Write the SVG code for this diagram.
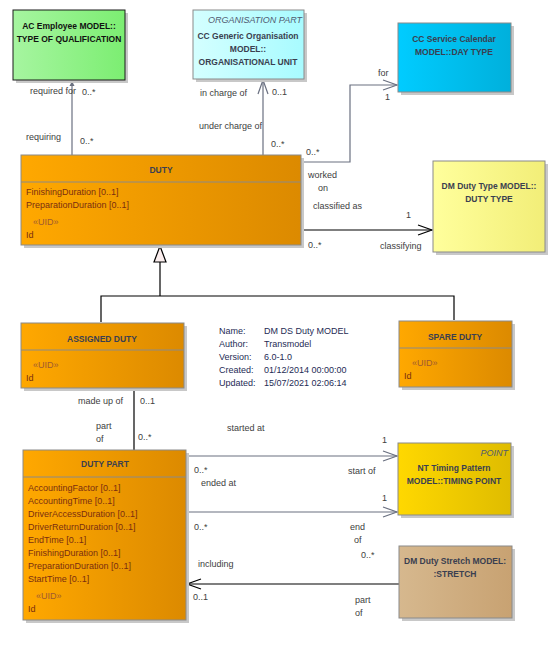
<svg xmlns="http://www.w3.org/2000/svg" width="555" height="648" viewBox="0 0 555 648">
<style>
text{font-family:"Liberation Sans",Arial,sans-serif;font-size:9px;fill:#404040}
.h{font-weight:bold;font-size:8.5px;fill:#3a3f50;text-anchor:middle}
.a{fill:#7a2e10}
.u{fill:#a05a30}
.i{font-style:italic;text-anchor:end;fill:#505a70}
.inf{fill:#1e2b55}
.box{stroke:#8a8a8a;stroke-width:1}
.sh{fill:#c8c8c8}
.g{stroke:#6a7080;stroke-width:1.2;fill:none}
.k{stroke:#000;stroke-width:1.2;fill:none}
</style>
<defs>
<linearGradient id="gOr" x1="0" x2="1"><stop offset="0" stop-color="#ffa800"/><stop offset="1" stop-color="#dc8a00"/></linearGradient>
<linearGradient id="gGr" x1="0" x2="1"><stop offset="0" stop-color="#a6f5a0"/><stop offset="1" stop-color="#7cee72"/></linearGradient>
<linearGradient id="gCy" x1="0" x2="1"><stop offset="0" stop-color="#d4ffff"/><stop offset="1" stop-color="#a8fbff"/></linearGradient>
<linearGradient id="gBl" x1="0" x2="1"><stop offset="0" stop-color="#00ccff"/><stop offset="1" stop-color="#00b0dc"/></linearGradient>
<linearGradient id="gYe" x1="0" x2="1"><stop offset="0" stop-color="#ffff9c"/><stop offset="1" stop-color="#f2ee78"/></linearGradient>
<linearGradient id="gGo" x1="0" x2="1"><stop offset="0" stop-color="#ffd800"/><stop offset="1" stop-color="#dfbc00"/></linearGradient>
<linearGradient id="gTa" x1="0" x2="1"><stop offset="0" stop-color="#d6b88e"/><stop offset="1" stop-color="#c8a272"/></linearGradient>
<marker id="mG" viewBox="0 0 16 12" refX="15" refY="6" markerWidth="16" markerHeight="12" markerUnits="userSpaceOnUse" orient="auto"><path d="M1,1 L15,6 L1,11" fill="none" stroke="#6a7080" stroke-width="1.2"/></marker>
<marker id="mK" viewBox="0 0 16 12" refX="15" refY="6" markerWidth="16" markerHeight="12" markerUnits="userSpaceOnUse" orient="auto"><path d="M1,1 L15,6 L1,11" fill="none" stroke="#000" stroke-width="1.2"/></marker>
<marker id="mS" viewBox="0 0 6 6" refX="5" refY="3" markerWidth="6" markerHeight="6" markerUnits="userSpaceOnUse" orient="auto"><path d="M0,0.5 L5,3 L0,5.5 Z" fill="#6a7080"/></marker>
</defs>

<g id="connectors">
<line class="g" x1="72" y1="155" x2="72" y2="81" marker-end="url(#mS)"/>
<line class="g" x1="263" y1="155" x2="263" y2="80" marker-end="url(#mG)"/>
<rect x="198" y="118" width="64" height="13" fill="#fff"/>
<path class="g" d="M300,162 H350 V85 H397" marker-end="url(#mG)"/>
<line class="k" x1="301" y1="230" x2="432" y2="230" marker-end="url(#mK)"/>
<path class="k" d="M160,262 V296 M101,322 V296 H454 V320"/>
<path d="M160,246 L154,262 L166,262 Z" fill="#fbeeee" stroke="#000" stroke-width="1.2"/>
<line class="k" x1="134" y1="388" x2="134" y2="450"/>
<line class="g" x1="187" y1="456" x2="397" y2="456" marker-end="url(#mG)"/>
<line class="g" x1="187" y1="512" x2="397" y2="512" marker-end="url(#mG)"/>
<line class="k" x1="399" y1="584" x2="187" y2="584" marker-end="url(#mK)"/>
<text x="30" y="94">required for</text>
<text x="82" y="95">0..*</text>
<text x="26" y="140">requiring</text>
<text x="80" y="144">0..*</text>
<text x="200" y="96">in charge of</text>
<text x="272" y="95">0..1</text>
<text x="199" y="129">under charge of</text>
<text x="271" y="147">0..*</text>
<text x="306" y="155">0..*</text>
<text x="378" y="76">for</text>
<text x="385" y="100">1</text>
<text x="308" y="178">worked</text>
<text x="318" y="191">on</text>
<text x="313" y="209">classified as</text>
<text x="406" y="218">1</text>
<text x="308" y="248">0..*</text>
<text x="380" y="249">classifying</text>
<text x="78" y="404">made up of</text>
<text x="140" y="404">0..1</text>
<text x="96" y="429">part</text>
<text x="96" y="442">of</text>
<text x="138" y="440">0..*</text>
<text x="227" y="431">started at</text>
<text x="382" y="443">1</text>
<text x="194" y="473">0..*</text>
<text x="348" y="474">start of</text>
<text x="201" y="486">ended at</text>
<text x="382" y="501">1</text>
<text x="194" y="530">0..*</text>
<text x="350" y="530">end</text>
<text x="354" y="543">of</text>
<text x="361" y="558">0..*</text>
<text x="198" y="567">including</text>
<text x="193" y="600">0..1</text>
<text x="355" y="603">part</text>
<text x="355" y="616">of</text>
</g>

<g id="qualification">
<rect class="sh" x="16" y="13" width="112" height="70"/>
<rect x="13" y="10" width="112" height="70" fill="url(#gGr)" stroke="#1a1a1a"/>
<text class="h" x="69" y="29" style="fill:#111">AC Employee MODEL::</text>
<text class="h" x="69" y="42" style="fill:#111">TYPE OF QUALIFICATION</text>
</g>

<g id="organisational-unit">
<rect class="sh" x="196" y="13" width="111" height="69"/>
<rect class="box" x="193" y="10" width="111" height="69" fill="url(#gCy)"/>
<text class="i" x="302" y="23">ORGANISATION PART</text>
<text class="h" x="248" y="39">CC Generic Organisation</text>
<text class="h" x="248" y="52">MODEL::</text>
<text class="h" x="248" y="65">ORGANISATIONAL UNIT</text>
</g>

<g id="day-type">
<rect class="sh" x="401" y="26" width="113" height="69"/>
<rect class="box" x="398" y="23" width="113" height="69" fill="url(#gBl)"/>
<text class="h" x="454" y="42">CC Service Calendar</text>
<text class="h" x="454" y="55">MODEL::DAY TYPE</text>
</g>

<g id="duty">
<rect class="sh" x="24" y="158" width="280" height="90"/>
<rect class="box" x="21" y="155" width="280" height="90" fill="url(#gOr)"/>
<line class="box" x1="21" y1="182" x2="301" y2="182"/>
<text class="h" x="161" y="173">DUTY</text>
<text class="a" x="26" y="195">FinishingDuration [0..1]</text>
<text class="a" x="26" y="208">PreparationDuration [0..1]</text>
<text class="u" x="33" y="225">«UID»</text>
<text class="a" x="26" y="238">Id</text>
</g>

<g id="duty-type">
<rect class="sh" x="436" y="164" width="112" height="91"/>
<rect class="box" x="433" y="161" width="112" height="91" fill="url(#gYe)"/>
<text class="h" x="489" y="189">DM Duty Type MODEL::</text>
<text class="h" x="489" y="202">DUTY TYPE</text>
</g>

<g id="assigned-duty">
<rect class="sh" x="24" y="326" width="163" height="65"/>
<rect class="box" x="21" y="323" width="163" height="65" fill="url(#gOr)"/>
<line class="box" x1="21" y1="350" x2="184" y2="350"/>
<text class="h" x="102" y="342">ASSIGNED DUTY</text>
<text class="u" x="33" y="368">«UID»</text>
<text class="a" x="26" y="381">Id</text>
</g>

<g id="spare-duty">
<rect class="sh" x="402" y="324" width="113" height="66"/>
<rect class="box" x="399" y="321" width="113" height="66" fill="url(#gOr)"/>
<line class="box" x1="399" y1="348" x2="512" y2="348"/>
<text class="h" x="455" y="340">SPARE DUTY</text>
<text class="u" x="412" y="366">«UID»</text>
<text class="a" x="404" y="379">Id</text>
</g>

<g id="info">
<text class="inf" x="219" y="334">Name:</text><text class="inf" x="264" y="334">DM DS Duty MODEL</text>
<text class="inf" x="219" y="347">Author:</text><text class="inf" x="264" y="347">Transmodel</text>
<text class="inf" x="219" y="360">Version:</text><text class="inf" x="264" y="360">6.0-1.0</text>
<text class="inf" x="219" y="373">Created:</text><text class="inf" x="264" y="373">01/12/2014 00:00:00</text>
<text class="inf" x="219" y="386">Updated:</text><text class="inf" x="264" y="386">15/07/2021 02:06:14</text>
</g>

<g id="duty-part">
<rect class="sh" x="26" y="453" width="163" height="170"/>
<rect class="box" x="23" y="450" width="163" height="170" fill="url(#gOr)"/>
<line class="box" x1="23" y1="477" x2="186" y2="477"/>
<text class="h" x="105" y="467">DUTY PART</text>
<text class="a" x="28" y="491">AccountingFactor [0..1]</text>
<text class="a" x="28" y="504">AccountingTime [0..1]</text>
<text class="a" x="28" y="517">DriverAccessDuration [0..1]</text>
<text class="a" x="28" y="530">DriverReturnDuration [0..1]</text>
<text class="a" x="28" y="543">EndTime [0..1]</text>
<text class="a" x="28" y="556">FinishingDuration [0..1]</text>
<text class="a" x="28" y="569">PreparationDuration [0..1]</text>
<text class="a" x="28" y="582">StartTime [0..1]</text>
<text class="u" x="36" y="599">«UID»</text>
<text class="a" x="28" y="612">Id</text>
</g>

<g id="timing-point">
<rect class="sh" x="401" y="446" width="113" height="72"/>
<rect class="box" x="398" y="443" width="113" height="72" fill="url(#gGo)"/>
<text class="i" x="508" y="456">POINT</text>
<text class="h" x="454" y="471">NT Timing Pattern</text>
<text class="h" x="454" y="484">MODEL::TIMING POINT</text>
</g>

<g id="stretch">
<rect class="sh" x="402" y="549" width="113" height="72"/>
<rect class="box" x="399" y="546" width="113" height="72" fill="url(#gTa)"/>
<text class="h" x="455" y="564">DM Duty Stretch MODEL:</text>
<text class="h" x="455" y="577">:STRETCH</text>
</g>
</svg>
